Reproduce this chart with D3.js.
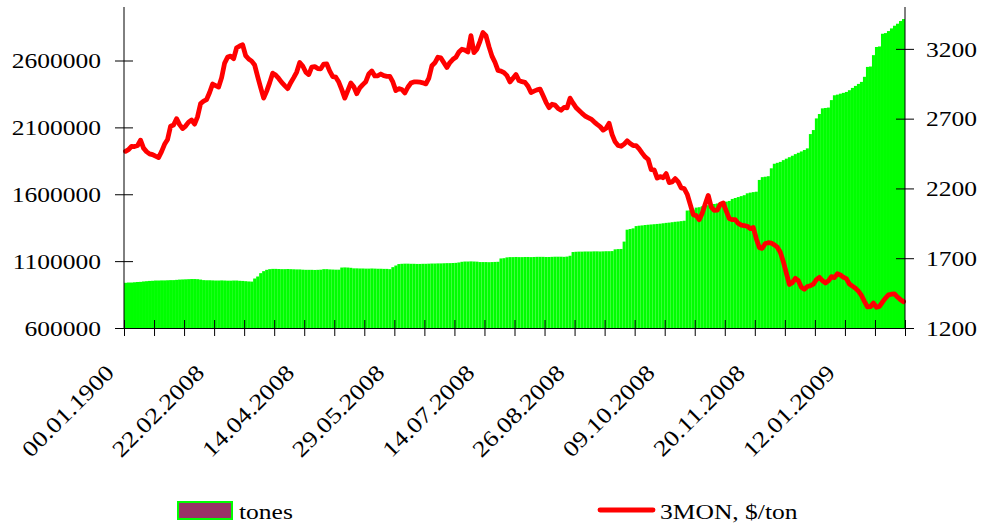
<!DOCTYPE html>
<html><head><meta charset="utf-8">
<script src="https://cdn.jsdelivr.net/npm/d3@7"></script>
<style>
body{margin:0;background:#fff}
svg{display:block}
text{font-family:"Liberation Serif","Times New Roman",serif;fill:#000}
</style>
</head><body>
<svg id="chart" width="982" height="526"></svg>
<script>
// ---- data ----
const tickLabels = ["00.01.1900","22.02.2008","14.04.2008","29.05.2008","14.07.2008","26.08.2008","09.10.2008","20.11.2008","12.01.2009"];
const leftTicks = [600000,1100000,1600000,2100000,2600000];
const rightTicks = [1200,1700,2200,2700,3200];
const seriesNames = ["tones","3MON, $/ton"];
const tones = [
938000,940000,940000,942000,944000,945000,948000,950000,952000,953000,
955000,955000,956000,956000,957000,958000,958000,960000,962000,963000,
964000,965000,966000,966000,965000,962000,958000,957000,957000,956000,
955000,955000,956000,955000,954000,954000,955000,955000,953000,952000,
950000,948000,947000,970000,985000,1010000,1025000,1035000,1040000,1042000,
1042000,1041000,1040000,1040000,1041000,1040000,1039000,1038000,1038000,1036000,
1035000,1035000,1035000,1034000,1035000,1036000,1040000,1040000,1038000,1037000,
1036000,1036000,1052000,1053000,1052000,1050000,1046000,1046000,1045000,1045000,
1044000,1044000,1045000,1044000,1043000,1043000,1042000,1042000,1040000,1055000,
1067000,1078000,1080000,1081000,1081000,1080000,1080000,1079000,1079000,1080000,
1080000,1081000,1082000,1082000,1083000,1083000,1084000,1085000,1085000,1086000,
1087000,1090000,1095000,1097000,1097000,1098000,1097000,1096000,1093000,1093000,
1093000,1092000,1093000,1094000,1095000,1120000,1122000,1128000,1130000,1130000,
1131000,1130000,1130000,1131000,1131000,1130000,1131000,1132000,1132000,1132000,
1131000,1131000,1132000,1133000,1133000,1133000,1132000,1134000,1140000,1168000,
1170000,1171000,1171000,1172000,1172000,1172000,1173000,1173000,1172000,1173000,
1174000,1174000,1175000,1188000,1190000,1191000,1246000,1335000,1340000,1345000,
1362000,1365000,1367000,1370000,1372000,1374000,1376000,1378000,1380000,1383000,
1386000,1388000,1391000,1394000,1396000,1399000,1402000,1478000,1480000,1485000,
1500000,1503000,1510000,1514000,1518000,1522000,1527000,1531000,1535000,1540000,
1545000,1550000,1565000,1572000,1579000,1586000,1593000,1607000,1612000,1616000,
1619000,1707000,1728000,1731000,1735000,1794000,1828000,1835000,1842000,1855000,
1866000,1877000,1888000,1900000,1910000,1920000,1931000,1943000,2050000,2080000,
2167000,2200000,2242000,2245000,2248000,2304000,2340000,2345000,2352000,2358000,
2365000,2378000,2395000,2410000,2425000,2440000,2478000,2552000,2555000,2640000,
2701000,2705000,2800000,2805000,2820000,2840000,2860000,2875000,2895000,2910000
];
const price3mon = [
2466,2478,2502,2500,2507,2546,2489,2464,2448,2442,
2431,2421,2464,2516,2550,2645,2654,2700,2657,2629,
2647,2675,2690,2661,2715,2808,2826,2837,2887,2948,
2937,2926,2994,3098,3141,3148,3130,3208,3220,3229,
3152,3127,3112,3084,3001,2922,2847,2897,2958,3026,
3012,2988,2960,2937,2915,2958,2994,3034,3102,3077,
3034,3016,3069,3073,3059,3057,3091,3092,3041,3001,
2997,2962,2908,2847,2901,2955,2928,2879,2920,2944,
2965,3020,3042,3006,3007,3020,3008,3003,3003,2963,
2901,2915,2909,2884,2925,2955,2963,2963,2961,2957,
2949,2991,3079,3100,3140,3135,3100,3066,3102,3125,
3140,3177,3197,3191,3178,3295,3173,3198,3254,3317,
3294,3216,3148,3104,3046,3041,3030,3008,2963,2989,
3016,2973,2965,2960,2932,2887,2897,2906,2912,2865,
2817,2779,2803,2797,2773,2760,2781,2778,2847,2811,
2779,2759,2738,2719,2708,2697,2677,2659,2643,2618,
2631,2667,2586,2534,2508,2502,2518,2541,2522,2507,
2507,2483,2453,2426,2409,2335,2333,2274,2285,2277,
2306,2242,2247,2270,2247,2204,2199,2158,2086,2012,
2005,1976,2023,2089,2150,2066,2043,2044,2087,2095,
2038,1984,1976,1976,1949,1937,1933,1929,1912,1920,
1840,1776,1771,1805,1811,1808,1796,1779,1743,1675,
1593,1512,1525,1556,1539,1492,1478,1497,1503,1514,
1546,1563,1540,1523,1538,1568,1561,1589,1580,1563,
1554,1515,1500,1485,1464,1434,1391,1351,1353,1378,
1349,1355,1386,1414,1437,1442,1445,1422,1403,1389
];
const tickEvery = 10, labelEvery = 30;

// ---- layout ----
const L = 124, R = 905, T = 7, B = 328;
const N = tones.length;
const svg = d3.select("#chart");
const x = d3.scaleBand().domain(d3.range(N)).range([L, R]).padding(0);
const xLin = d3.scaleLinear().domain([0, N]).range([L, R]);
const yL = d3.scaleLinear().domain([600000, 3000000]).range([B, T]);
const yR = d3.scaleLinear().domain([1200, 3500]).range([B, T]);
const bw = x.bandwidth();
const FS = 22, STRETCH = 1.16;

// bars
svg.append("g").selectAll("rect").data(tones).join("rect")
  .attr("x", (d,i) => x(i)).attr("width", bw)
  .attr("y", d => yL(d)).attr("height", d => yL(600000) - yL(d))
  .attr("fill", "#00ff00");

// line
svg.append("path").datum(price3mon)
  .attr("fill", "none").attr("stroke", "#ff0000").attr("stroke-width", 4.8)
  .attr("stroke-linejoin", "round").attr("stroke-linecap", "round")
  .attr("d", d3.line().x((d,i) => x(i) + bw/2).y(d => yR(d)));

// left axis
const gl = svg.append("g").attr("transform", `translate(${L},0)`)
  .call(d3.axisLeft(yL).tickValues(leftTicks).tickFormat(d3.format("d")).tickSizeOuter(0));
gl.select(".domain").remove();
gl.selectAll(".tick line").attr("x1", -9).attr("x2", 9).attr("stroke", "#000");
gl.selectAll(".tick text").attr("x", -23).attr("dy", "0.33em").attr("class", "st")
  .style("font-size", FS + "px").style("font-family", null);
gl.append("line").attr("x1", 0).attr("x2", 0).attr("y1", T).attr("y2", B).attr("stroke", "#000");

// right axis
const gr = svg.append("g").attr("transform", `translate(${R},0)`)
  .call(d3.axisRight(yR).tickValues(rightTicks).tickFormat(d3.format("d")).tickSizeOuter(0));
gr.select(".domain").remove();
gr.selectAll(".tick line").attr("x1", -9).attr("x2", 9).attr("stroke", "#000");
gr.selectAll(".tick text").attr("x", 21).attr("dy", "0.33em").attr("class", "st")
  .style("font-size", FS + "px").style("font-family", null);
gr.append("line").attr("x1", 0).attr("x2", 0).attr("y1", T).attr("y2", B).attr("stroke", "#000");

// bottom axis
const gb = svg.append("g").attr("transform", `translate(0,${B})`)
  .call(d3.axisBottom(xLin).tickValues(d3.range(0, N + 1, tickEvery)).tickFormat("").tickSizeOuter(0));
gb.select(".domain").remove();
gb.selectAll(".tick line").attr("y1", -8).attr("y2", 8).attr("stroke", "#000");
gb.append("line").attr("x1", L).attr("x2", R).attr("y1", 0.5).attr("y2", 0.5).attr("stroke", "#000");

// category labels
svg.append("g").selectAll("text").data(tickLabels).join("text")
  .attr("class", "st rot")
  .attr("text-anchor", "end")
  .attr("transform", (d,k) => `translate(${x(k*labelEvery) + bw/2 - 10},${B + 46}) rotate(-45)`)
  .style("font-size", "22.5px")
  .text(d => d);

// legend
const lg = svg.append("g");
lg.append("rect").attr("x", 178).attr("y", 502).attr("width", 54).attr("height", 17)
  .attr("fill", "#993366").attr("stroke", "#00ff00").attr("stroke-width", 2);
lg.append("text").attr("class", "st").attr("x", 239).attr("y", 519).style("font-size", FS + "px").text(seriesNames[0]);
lg.append("line").attr("x1", 600).attr("x2", 653).attr("y1", 510).attr("y2", 510)
  .attr("stroke", "#ff0000").attr("stroke-width", 4.8).attr("stroke-linecap", "round");
lg.append("text").attr("class", "st").attr("x", 660).attr("y", 519).style("font-size", FS + "px").text(seriesNames[1]);

// horizontal stretch of text (as in reference rendering)
svg.selectAll("text.st").each(function() {
  const w = this.getComputedTextLength();
  const s = this.classList.contains("rot") ? 1.18 : STRETCH;
  d3.select(this).attr("textLength", w * s).attr("lengthAdjust", "spacingAndGlyphs");
});
</script>
</body></html>
